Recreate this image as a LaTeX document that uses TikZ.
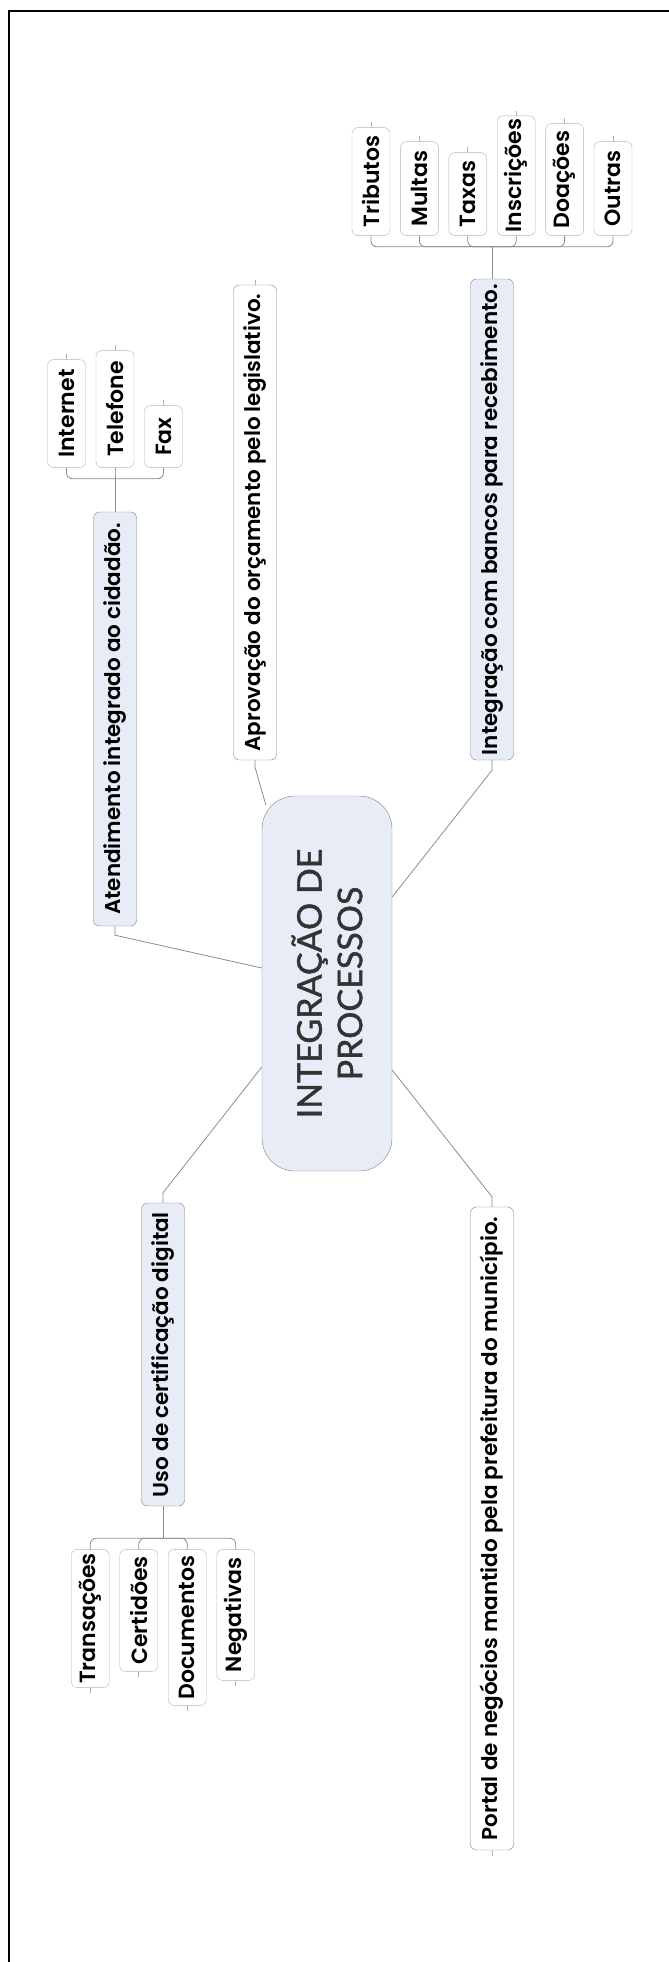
\documentclass[tikz,border=0pt]{standalone}
\usepackage{fontspec}
\setmainfont{Poppins}[BoldFont={* SemiBold}]
\newfontfamily\titlefont{Lato}[FakeBold=1.3]
\usetikzlibrary{positioning}
\def\edgecolor{black!45}
\def\boxcolor{black!50}
\def\leafcolor{black!30}
\definecolor{topicblue}{RGB}{232,236,246}

\begin{document}
\begin{tikzpicture}[x=1pt, y=-1pt,
  hub/.style={rotate=90, draw=\boxcolor, fill=topicblue, rounded corners=33pt, minimum width=375pt, minimum height=130pt, align=center, text=black!80, font=\titlefont\fontsize{34}{40.5}\selectfont},
  topic/.style={rotate=90, draw=\boxcolor, fill=topicblue, rounded corners=6pt, minimum height=43pt, inner xsep=3pt, font=\fontsize{21.5}{24}\selectfont\bfseries},
  plaintopic/.style={topic, fill=white},
  leaf/.style={rotate=90, draw=\leafcolor, fill=white, rounded corners=6pt, minimum height=38pt, inner xsep=3pt, font=\fontsize{22}{25}\selectfont\bfseries},
  edge/.style={draw=\edgecolor, line width=0.8pt},
  bracket/.style={edge, rounded corners=6pt},
  tick/.style={draw=\leafcolor, line width=0.7pt}]

  \useasboundingbox (0,0) rectangle (669,1962);
  \draw[line width=2pt] (8.5,1962) -- (8.5,11) -- (669,11);

  % centre and main branches
  \node[hub] (hub) at (327,983.5) {INTEGRAÇÃO DE\\PROCESSOS};
  \node[topic, minimum width=414pt] (atend) at (115,719) {Atendimento integrado ao cidadão.};
  \node[plaintopic, minimum width=475pt] (aprov) at (255,522.5) {Aprovação do orçamento pelo legislativo.};
  \node[topic, minimum width=481pt] (bancos) at (492,519.5) {Integração com bancos para recebimento.};
  \node[topic, minimum width=303pt] (certif) at (163,1354.5) {Uso de certificação digital};
  \node[plaintopic, minimum width=643pt] (portal) at (492,1528.5) {Portal de negócios mantido pela prefeitura do município.};

  \draw[edge] (atend.west) -- ++(0,9) -- ([yshift=15.5pt]hub.north);
  \draw[edge] (aprov.west) -- ++(0,7) -- ([xshift=4pt, yshift=-9pt]hub.north east);
  \draw[edge] (bancos.west) -- ++(0,10) -- ([yshift=86.5pt]hub.south);
  \draw[edge] ([yshift=-83.5pt]hub.north) -- ([yshift=10pt]certif.east) -- (certif.east);
  \draw[edge] ([yshift=-86.5pt]hub.south) -- ([yshift=10pt]portal.east) -- (portal.east);

  % bars for the sub-topics
  \coordinate (atendbar) at ([yshift=33pt]atend.east);
  \coordinate (bancosbar) at ([yshift=32pt]bancos.east);
  \coordinate (certifbar) at ([yshift=-32pt]certif.west);
  \draw[edge] (atend.east) -- (atendbar);
  \draw[edge] (bancos.east) -- (bancosbar);
  \draw[edge] (certif.west) -- (certifbar);

  \foreach \name/\len/\txt [count=\i] in {internet/108/Internet, telefone/117/Telefone, fax/62/Fax} {
    \node[leaf, anchor=west, minimum width=\len pt] (\name) at ([xshift={(\i-2)*48.5pt}, yshift=11pt]atendbar) {\txt};
    \draw[bracket] (\name.west) |- (atendbar);
    \draw[tick] (\name.east) -- ++(0,-5);
  }
  \foreach \name/\len/\txt [count=\i] in {tributos/108/Tributos, multas/94/Multas, taxas/83/Taxas, inscricoes/119/Inscrições, doacoes/112/Doações, outras/94/Outras} {
    \node[leaf, anchor=west, minimum width=\len pt] (\name) at ([xshift={(\i-3.5)*48.4pt}, yshift=11pt]bancosbar) {\txt};
    \draw[bracket] (\name.west) |- (bancosbar);
    \draw[tick] (\name.east) -- ++(0,-5);
  }
  \foreach \name/\len/\txt [count=\i] in {transacoes/138/Transações, certidoes/122/Certidões, documentos/156/Documentos, negativas/131/Negativas} {
    \node[leaf, anchor=east, minimum width=\len pt] (\name) at ([xshift={(\i-2.5)*48.5pt}, yshift=-11pt]certifbar) {\txt};
    \draw[bracket] (\name.east) |- (certifbar);
    \draw[tick] (\name.west) -- ++(0,5);
  }

  \draw[tick] (aprov.east) -- ++(0,-5);
  \draw[tick] (portal.west) -- ++(0,6);
\end{tikzpicture}
\end{document}
